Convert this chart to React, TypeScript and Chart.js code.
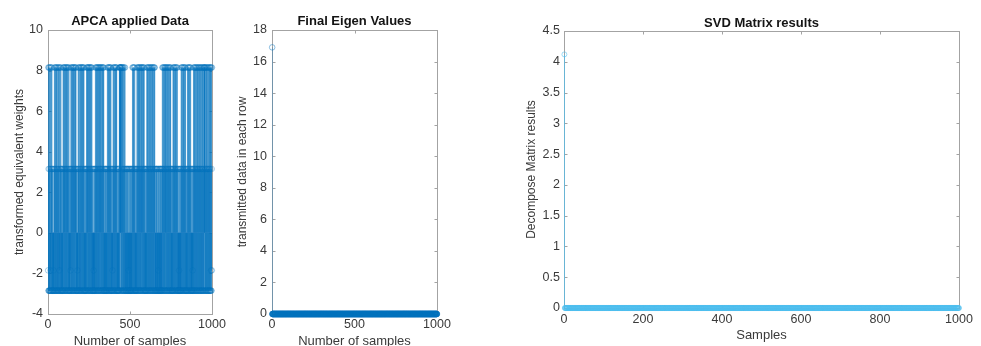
import React, { useEffect, useRef } from "react";
import { Chart, registerables } from "chart.js";

Chart.register(...registerables);

const FONT = "'Liberation Sans', Arial, Helvetica, sans-serif";

// ---------- DATA ----------
// APCA applied Data: each character is one sample (x = 1..1000)
const apcaLevelCodes = ["a", "b", "c", "d"];
const apcaLevelValues = [8.15, 3.15, -1.85, -2.85];
const apcaPattern = [
  "cadbdadadbddadcdabdadbda" + "ddbdddbddcddbd" + "adbdadadbdda",
  "dadbdadbddadadbdadcdadbdadbdad" + "dbddbdddbdd" + "adbdaadbd",
  "adbdadadbddadabdadbdadadbdda" + "ddbdddbdcbd" + "adadbdadbda",
  "dadbdadadbdadbdaadbdad" + "dbddbddcdbd" + "adbdadadbddadbdad",
  "adbdadadbdadadbdadad" + "dbdddbddbdddb" + "dadbdaadbdadadbda",
  "dadbdadadbdadadbda" + "ddbdddbddcdbdddbddbd" + "adbdadadbdad",
  "adbdadadbdadadbdaadbdadadbdadbdadadbdadad" + "dbdddbddb",
  "ddbddbdddbd" + "adbdadadbdadadbdadadbdad" + "dbdddbdcdbd" + "adbd",
  "adadbdadbdadadbdadad" + "dbdddbddbddbdd" + "adaadaaadaadbdad",
  "aadbdadadbdadbdadbda" + "ddbdddbddbdbddbdddbdcdbddbdddb",
  "ddbdddbddbddb" + "dadbdadadbdadbdad" + "dbdddbddbdd" + "adbdadbda",
  "dadbdadadbdadbdadadbdaadbdadbdadadbdadbd" + "dbdddbddbd",
  "d" + "adbdadadbdadbdadadbdadbdadadbdadbdadadbdadbdadadb",
  "ad" + "dbdddbddbdbddbdddbdcdbddbdddbddbddbdbdddbddb" + "adbd",
  "adadbdadbdadadbdaadbdadbdadadbdadbdadadbdadbdadadb",
  "dbdddbddbdd" + "adbdadadbdadbdadadbdadbdadadb" + "ddbdddbdcd",
  "dbdddbddbdd" + "adbdadadbdadbdadadbdadbdada" + "dbdddbddbdd" + "a",
  "dbdadadbdadbdadadbda" + "ddbdddbddbdcdbdd" + "adbdadadbdadbd",
  "adadbdadbdadadbdadbdadadbdadbdadadbdadbdadadbdadbd",
  "adaaadadbd" + "adbdadadbd" + "adbdadadbd" + "adbdadadbd" + "adacdadbca",
].join("");
const apcaValues: number[] = apcaPattern
  .split("")
  .map((ch) => apcaLevelValues[apcaLevelCodes.indexOf(ch)]);

// Final Eigen Values: first sample large, all others zero
const eigenPeak = [16.9];
const eigenRest: number[] = new Array(999).fill(0);
const eigenValues: number[] = [...eigenPeak, ...eigenRest];

// SVD Matrix results: first sample 4.12, all others zero
const svdPeak = [4.12];
const svdRest: number[] = new Array(999).fill(0);
const svdValues: number[] = [...svdPeak, ...svdRest];

// Tick labels
const apcaXTicks = [0, 500, 1000];
const apcaYTicks = [-4, -2, 0, 2, 4, 6, 8, 10];
const eigenXTicks = [0, 500, 1000];
const eigenYTicks = [0, 2, 4, 6, 8, 10, 12, 14, 16, 18];
const svdXTicks = [0, 200, 400, 600, 800, 1000];
const svdYTicks = [0, 0.5, 1, 1.5, 2, 2.5, 3, 3.5, 4, 4.5];

// ---------- PLUGIN: MATLAB-like box with inward ticks ----------
const matlabBox = {
  id: "matlabBox",
  beforeDatasetsDraw(chart: any) {
    const { ctx, chartArea: a, scales } = chart;
    const l = Math.round(a.left) + 0.5;
    const r = Math.round(a.right) + 0.5;
    const t = Math.round(a.top) + 0.5;
    const b = Math.round(a.bottom) + 0.5;
    ctx.save();
    ctx.strokeStyle = "#a3a3a3";
    ctx.lineWidth = 1;
    ctx.strokeRect(l, t, r - l, b - t);
    const tl = 3;
    ctx.beginPath();
    scales.x.ticks.forEach((tk: any) => {
      const px = Math.round(scales.x.getPixelForValue(tk.value)) + 0.5;
      ctx.moveTo(px, b);
      ctx.lineTo(px, b - tl);
      ctx.moveTo(px, t);
      ctx.lineTo(px, t + tl);
    });
    scales.y.ticks.forEach((tk: any) => {
      const py = Math.round(scales.y.getPixelForValue(tk.value)) + 0.5;
      ctx.moveTo(l, py);
      ctx.lineTo(l + tl, py);
      ctx.moveTo(r, py);
      ctx.lineTo(r - tl, py);
    });
    ctx.stroke();
    ctx.restore();
  },
};

type Layout = {
  left: number;
  width: number;
  yAxisWidth: number;
  padRight: number;
  xAxisHeight: number;
  titlePadTop: number;
  titlePadBottom: number;
  yTitlePad: number;
  xTitlePadBottom: number;
  xTickPad: number;
  yTickPad: number;
};

type StemProps = {
  values: number[];
  title: string;
  xTitle: string;
  yTitle: string;
  xTicks: number[];
  yTicks: number[];
  stemColor: string;
  markerColor: string;
  markerRadius: number;
  lay: Layout;
};

function StemChart(p: StemProps) {
  const ref = useRef<HTMLCanvasElement | null>(null);
  useEffect(() => {
    if (!ref.current) return;
    const pts = p.values.map((v, i) => ({ x: i + 1, y: v }));
    const tickFont = { family: FONT, size: 12.5 };
    const chart = new Chart(ref.current, {
      type: "bar",
      data: {
        datasets: [
          {
            type: "bar",
            data: pts as any,
            backgroundColor: p.stemColor,
            borderWidth: 0,
            barThickness: 1,
            inflateAmount: 0,
            order: 2,
          } as any,
          {
            type: "scatter",
            data: pts as any,
            showLine: false,
            pointStyle: "circle",
            pointRadius: p.markerRadius,
            pointBackgroundColor: "rgba(0,0,0,0)",
            pointBorderColor: p.markerColor,
            pointBorderWidth: 0.9,
            clip: false,
            order: 1,
          } as any,
        ],
      },
      options: {
        responsive: false,
        animation: false,
        events: [],
        layout: {
          padding: { left: 0, right: p.lay.padRight, top: 0, bottom: 0 },
          autoPadding: false,
        },
        plugins: {
          legend: { display: false },
          tooltip: { enabled: false },
          title: {
            display: true,
            text: p.title,
            fullSize: false,
            color: "#141414",
            font: { family: FONT, size: 13, weight: "bold", lineHeight: 1.2 },
            padding: { top: p.lay.titlePadTop, bottom: p.lay.titlePadBottom },
          },
        },
        scales: {
          x: {
            type: "linear",
            min: p.xTicks[0],
            max: p.xTicks[p.xTicks.length - 1],
            offset: false,
            grid: { display: false, drawTicks: false },
            border: { display: false },
            afterBuildTicks: (s: any) => {
              s.ticks = p.xTicks.map((v) => ({ value: v }));
            },
            afterFit: (s: any) => {
              s.height = p.lay.xAxisHeight;
            },
            ticks: {
              autoSkip: false,
              maxRotation: 0,
              padding: p.lay.xTickPad,
              color: "#3a3a3a",
              font: tickFont,
              callback: (v: any) => String(v),
            },
            title: {
              display: true,
              text: p.xTitle,
              color: "#3a3a3a",
              font: { family: FONT, size: 13, lineHeight: 0.77 },
              padding: { top: 0, bottom: p.lay.xTitlePadBottom },
            },
          } as any,
          y: {
            type: "linear",
            min: p.yTicks[0],
            max: p.yTicks[p.yTicks.length - 1],
            grid: { display: false, drawTicks: false },
            border: { display: false },
            afterBuildTicks: (s: any) => {
              s.ticks = p.yTicks.map((v) => ({ value: v }));
            },
            afterFit: (s: any) => {
              s.width = p.lay.yAxisWidth;
            },
            ticks: {
              autoSkip: false,
              padding: p.lay.yTickPad,
              color: "#3a3a3a",
              font: tickFont,
              callback: (v: any) => String(v),
            },
            title: {
              display: true,
              text: p.yTitle,
              color: "#3a3a3a",
              font: { family: FONT, size: 12, lineHeight: 1 },
              padding: { top: p.lay.yTitlePad, bottom: 0 },
            },
          } as any,
        },
      } as any,
      plugins: [matlabBox],
    });
    return () => chart.destroy();
  }, []);
  return (
    <canvas
      ref={ref}
      width={p.lay.width}
      height={346}
      style={{
        position: "absolute",
        left: p.lay.left,
        top: 0,
        width: p.lay.width,
        height: 346,
        display: "block",
      }}
    />
  );
}

export default function App() {
  return (
    <div
      style={{
        position: "absolute",
        left: 0,
        top: 0,
        width: 981,
        height: 346,
        background: "#ffffff",
        overflow: "hidden",
      }}
    >
      <StemChart
        values={apcaValues}
        title="APCA applied Data"
        xTitle="Number of samples"
        yTitle="transformed equivalent weights"
        xTicks={apcaXTicks}
        yTicks={apcaYTicks}
        stemColor="rgba(0,114,189,0.62)"
        markerColor="rgba(0,114,189,0.38)"
        markerRadius={2.8}
        lay={{
          left: 0,
          width: 240,
          yAxisWidth: 48,
          padRight: 28,
          xAxisHeight: 32,
          titlePadTop: 13.2,
          titlePadBottom: 1.2,
          yTitlePad: 13.5,
          xTitlePadBottom: 0,
          xTickPad: 3.5,
          yTickPad: 5,
        }}
      />
      <StemChart
        values={eigenValues}
        title="Final Eigen Values"
        xTitle="Number of samples"
        yTitle="transmitted data in each row"
        xTicks={eigenXTicks}
        yTicks={eigenYTicks}
        stemColor="rgba(0,114,189,0.45)"
        markerColor="rgba(0,114,189,0.5)"
        markerRadius={2.8}
        lay={{
          left: 222,
          width: 238,
          yAxisWidth: 50,
          padRight: 23,
          xAxisHeight: 32,
          titlePadTop: 13.2,
          titlePadBottom: 1.2,
          yTitlePad: 15,
          xTitlePadBottom: 0,
          xTickPad: 3.5,
          yTickPad: 5,
        }}
      />
      <StemChart
        values={svdValues}
        title="SVD Matrix results"
        xTitle="Samples"
        yTitle="Decompose Matrix results"
        xTicks={svdXTicks}
        yTicks={svdYTicks}
        stemColor="rgba(77,190,238,0.75)"
        markerColor="rgba(77,190,238,0.6)"
        markerRadius={2.5}
        lay={{
          left: 460,
          width: 521,
          yAxisWidth: 104,
          padRight: 22,
          xAxisHeight: 38,
          titlePadTop: 15.2,
          titlePadBottom: 0.2,
          yTitlePad: 66,
          xTitlePadBottom: 6,
          xTickPad: 4.5,
          yTickPad: 4,
        }}
      />
    </div>
  );
}
